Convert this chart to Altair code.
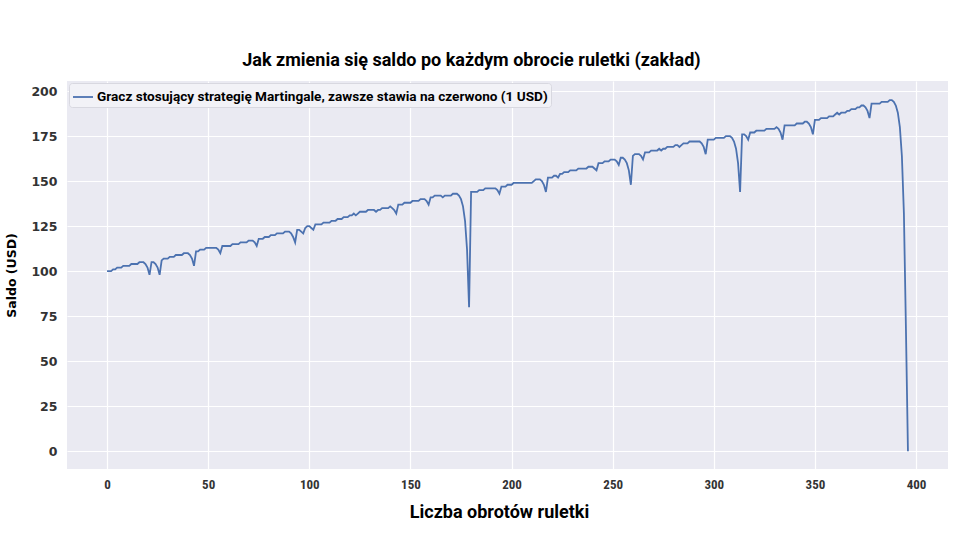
import altair as alt
import pandas as pd

# Balance after each spin
balance = [
    100, 100, 100, 101, 101, 102, 102, 102, 103, 103,
    103, 103, 104, 104, 104, 104, 105, 105, 105, 104,
    102, 98, 105, 105, 104, 102, 98, 106, 107, 107,
    107, 108, 108, 108, 109, 109, 109, 109, 110, 110,
    110, 109, 107, 103, 111, 111, 112, 112, 112, 113,
    113, 113, 113, 113, 113, 112, 110, 114, 114, 114,
    114, 114, 115, 115, 115, 115, 116, 116, 116, 116,
    117, 117, 117, 116, 114, 118, 118, 118, 119, 119,
    119, 120, 120, 120, 121, 121, 121, 121, 122, 122,
    122, 121, 119, 116, 123, 123, 122, 121, 124, 125,
    125, 124, 123, 126, 126, 126, 126, 127, 127, 127,
    127, 128, 128, 128, 129, 129, 129, 130, 130, 130,
    131, 131, 132, 131, 132, 133, 133, 133, 133, 134,
    134, 134, 134, 133, 134, 134, 135, 135, 135, 135,
    136, 135, 134, 132, 137, 137, 137, 138, 138, 138,
    138, 139, 139, 139, 139, 140, 140, 140, 139, 137,
    141, 141, 142, 142, 142, 142, 141, 142, 142, 142,
    142, 143, 143, 143, 142, 140, 136, 128, 112, 80,
    144, 144, 144, 144, 145, 145, 145, 146, 146, 146,
    146, 146, 146, 145, 143, 147, 147, 147, 148, 148,
    148, 149, 149, 149, 149, 149, 149, 149, 149, 149,
    149, 150, 151, 151, 151, 150, 148, 144, 152, 152,
    152, 153, 153, 152, 154, 154, 155, 155, 155, 156,
    156, 156, 156, 157, 157, 157, 157, 157, 158, 158,
    158, 157, 156, 160, 160, 160, 161, 161, 161, 162,
    162, 162, 161, 159, 163, 163, 162, 160, 156, 148,
    164, 165, 165, 165, 164, 162, 166, 166, 166, 167,
    167, 167, 167, 168, 167, 168, 168, 169, 169, 169,
    169, 170, 170, 169, 170, 171, 171, 171, 172, 172,
    172, 172, 172, 172, 171, 169, 165, 173, 173, 173,
    173, 174, 174, 174, 174, 174, 175, 175, 175, 174,
    172, 168, 160, 144, 176, 176, 175, 173, 177, 177,
    177, 178, 178, 178, 178, 178, 179, 179, 179, 179,
    179, 180, 179, 177, 173, 181, 181, 181, 181, 181,
    181, 182, 182, 182, 182, 183, 183, 182, 180, 176,
    184, 184, 184, 185, 185, 185, 185, 186, 186, 186,
    187, 188, 187, 188, 188, 188, 189, 189, 190, 190,
    190, 191, 191, 192, 192, 191, 189, 185, 193, 193,
    193, 193, 193, 194, 194, 194, 194, 195, 195, 194,
    192, 188, 180, 164, 132, 68, 0,
]
spins = list(range(len(balance)))
series_label = "Gracz stosujący strategię Martingale, zawsze stawia na czerwono (1 USD)"
x_ticks = [0, 50, 100, 150, 200, 250, 300, 350, 400]
y_ticks = [0, 25, 50, 75, 100, 125, 150, 175, 200]

df = pd.DataFrame({"spin": spins, "saldo": balance, "seria": series_label})

chart = (
    alt.Chart(df)
    .mark_line(strokeWidth=1.8, clip=True)
    .encode(
        x=alt.X(
            "spin:Q",
            scale=alt.Scale(domain=[-19.8, 415.8], nice=False, zero=False),
            axis=alt.Axis(
                values=x_ticks,
                title="Liczba obrotów ruletki",
                labelFont="Liberation Sans Narrow, Roboto Condensed, Roboto",
                labelFontSize=13,
                labelFontWeight="bold",
                labelColor="#333333",
                labelPadding=9,
                titleFont="Roboto",
                titleFontSize=18,
                titleFontWeight="bold",
                titleColor="#000000",
                titlePadding=12,
                titleX=432,
            ),
        ),
        y=alt.Y(
            "saldo:Q",
            scale=alt.Scale(domain=[-9.8, 205.6], nice=False, zero=False),
            axis=alt.Axis(
                values=y_ticks,
                title="Saldo (USD)",
                labelFont="DejaVu Sans",
                labelFontSize=12.5,
                labelFontWeight="bold",
                labelColor="#333333",
                labelPadding=10,
                titleFont="DejaVu Sans",
                titleFontSize=12.5,
                titleFontWeight="bold",
                titleColor="#000000",
                titlePadding=12,
            ),
        ),
        color=alt.Color(
            "seria:N",
            scale=alt.Scale(range=["#4C72B0"]),
            legend=alt.Legend(
                title=None,
                orient="none",
                legendX=2,
                legendY=2,
                symbolType="stroke",
                symbolSize=400,
                symbolStrokeWidth=1.8,
                labelFont="Roboto",
                labelFontSize=13.6,
                labelFontWeight="bold",
                labelColor="#000000",
                labelOffset=3,
                padding=3,
                fillColor="#F2F2F7",
                strokeColor="#D8D8E0",
                cornerRadius=3,
                labelLimit=700,
            ),
        ),
    )
    .properties(
        width=881,
        height=388,
        autosize=alt.AutoSizeParams(type="none"),
        padding={"left": 67, "top": 81, "right": 12, "bottom": 71},
        background="#FFFFFF",
        title=alt.TitleParams(
            "Jak zmienia się saldo po każdym obrocie ruletki (zakład)",
            font="Roboto",
            fontSize=18,
            fontWeight="bold",
            color="#000000",
            anchor="middle",
            dx=-36,
            offset=11,
        ),
    )
    .configure_view(fill="#EAEAF2", strokeWidth=0)
    .configure_axis(
        domain=False,
        ticks=False,
        grid=True,
        gridColor="#FFFFFF",
        gridWidth=1.2,
    )
)

chart.save("out.html", embed_options={"renderer": "svg", "actions": False})
